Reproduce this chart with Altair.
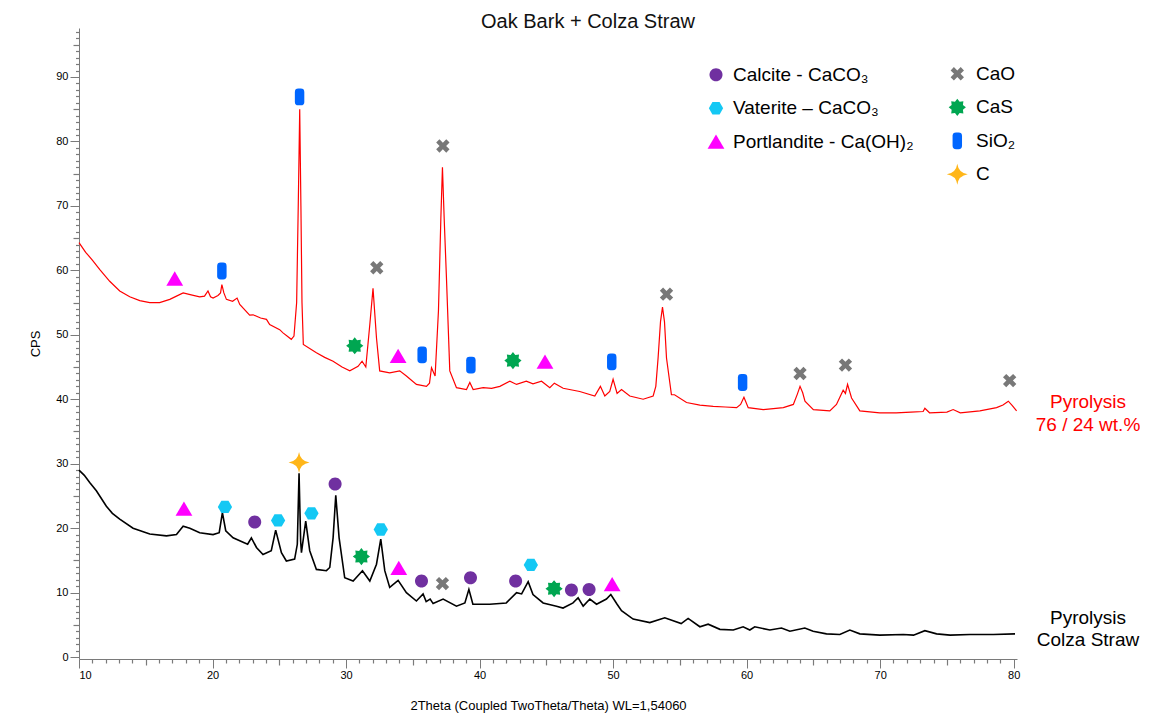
import math
import altair as alt
import pandas as pd

F = "Liberation Sans"

# ---------------- data ----------------
red_x = [10.0, 10.5, 11.0, 11.56, 12.3, 13.05, 13.8, 14.55, 15.3, 16.04, 16.8, 17.3, 17.8, 18.4, 19.04,
         19.4, 19.66, 19.85, 20.04, 20.41, 20.6, 20.7, 20.85, 21.04, 21.5, 21.84, 22.04, 22.78, 23.04,
         23.6, 24.04, 24.28, 25.03, 25.28, 25.9, 26.1, 26.3, 26.42, 26.53, 26.62, 26.7, 26.8, 27.78,
         28.4, 29.03, 29.7, 30.28, 30.9, 31.2, 31.48, 31.78, 32.02, 32.28, 32.52, 33.27, 34.02, 34.52,
         35.27, 36.02, 36.25, 36.4, 36.67, 36.92, 37.1, 37.22, 37.35, 37.52, 37.77, 38.27, 39.02, 39.27,
         39.52, 40.27, 40.9, 41.52, 42.27, 42.77, 43.5, 44.0, 44.64, 45.26, 45.6, 46.26, 47.5, 48.63,
         49.05, 49.38, 49.75, 50.0, 50.3, 50.63, 51.25, 52.25, 53.0, 53.2, 53.37, 53.55, 53.7, 53.85,
         54.0, 54.37, 54.6, 55.5, 56.5, 57.5, 58.4, 59.25, 59.55, 59.8, 60.12, 61.25, 62.75, 63.5, 63.8,
         64.0, 64.2, 64.37, 65.0, 66.23, 66.73, 67.23, 67.4, 67.56, 67.86, 68.48, 69.97, 71.2, 72.3,
         73.22, 73.35, 73.7, 75.0, 75.47, 76.0, 77.47, 78.72, 79.2, 79.6, 79.9, 80.22]
red_y = [64.3, 62.8, 61.6, 60.1, 58.3, 56.8, 55.9, 55.3, 55.0, 55.0, 55.5, 56.0, 56.5, 56.2, 55.9,
         56.0, 56.8, 55.9, 55.7, 56.1, 56.5, 57.8, 56.5, 55.5, 55.2, 55.7, 54.7, 53.05, 53.1,
         52.6, 52.4, 51.6, 50.8, 50.3, 49.3, 49.8, 55.0, 70.0, 85.0, 70.0, 55.0, 48.5, 47.2,
         46.5, 45.9, 45.0, 44.4, 45.1, 45.9, 45.0, 51.6, 57.2, 49.5, 44.4, 44.1, 44.4, 43.6,
         42.3, 42.0, 42.5, 44.9, 43.6, 53.7, 68.0, 76.0, 68.0, 58.8, 44.4, 41.8, 41.5, 42.6,
         41.5, 41.8, 41.7, 42.0, 42.8, 42.3, 42.8, 42.4, 42.8, 41.8, 42.5, 41.7, 41.2, 40.5,
         42.0, 40.5, 41.2, 43.1, 40.9, 41.5, 40.5, 40.0, 40.5, 42.0, 46.4, 52.0, 54.3, 52.0,
         46.4, 40.7, 40.7, 39.5, 39.1, 38.9, 38.8, 38.7, 39.2, 40.3, 38.7, 38.4, 38.7, 39.2, 40.8,
         42.0, 41.0, 39.7, 38.4, 38.2, 39.2, 41.4, 40.9, 42.3, 40.2, 38.2, 37.9, 37.9, 38.0,
         38.1, 38.6, 37.9, 38.0, 38.4, 37.9, 38.2, 38.7, 39.1, 39.7, 39.0, 38.2]

black_x = [10.0, 10.4, 10.8, 11.3, 12.05, 12.5, 13.05, 14.05, 15.3, 16.55, 17.3, 17.6, 17.8, 18.3, 19.04,
           20.04, 20.5, 20.74, 20.99, 21.54, 22.29, 22.63, 22.91, 23.29, 23.78, 24.4, 24.73, 25.16,
           25.53, 26.15, 26.35, 26.48, 26.6, 26.66, 26.98, 27.28, 27.78, 28.53, 28.78, 29.03, 29.23,
           29.48, 29.9, 30.53, 31.23, 31.78, 32.28, 32.6, 32.9, 33.27, 33.9, 34.52, 35.27, 35.77, 36.0,
           36.3, 36.52, 37.27, 38.27, 38.9, 39.2, 39.5, 40.76, 42.0, 42.77, 43.15, 43.64, 44.0, 44.76,
           45.76, 46.25, 47.0, 47.38, 47.76, 48.26, 48.76, 49.5, 49.83, 50.3, 50.63, 51.5, 52.75, 53.87,
           55.1, 55.62, 56.5, 57.12, 58.0, 59.0, 59.74, 60.24, 60.61, 61.74, 62.61, 63.24, 64.36, 64.98,
           65.98, 66.98, 67.73, 68.48, 69.98, 71.73, 72.5, 73.35, 74.23, 75.24, 76.73, 78.48, 80.1]
black_y = [29.0, 28.2, 27.1, 25.8, 23.4, 22.3, 21.4, 20.0, 19.1, 18.8, 19.0, 19.8, 20.3, 20.0, 19.3,
           19.0, 19.3, 22.4, 19.6, 18.5, 17.8, 17.5, 18.5, 17.0, 15.9, 16.5, 19.7, 16.2,
           14.9, 15.2, 17.5, 28.5, 18.0, 16.2, 21.1, 16.5, 13.6, 13.4, 13.9, 18.5, 25.1,
           18.5, 12.3, 11.8, 13.4, 11.8, 14.4, 18.3, 13.4, 10.8, 11.9, 10.0, 8.7, 9.8, 8.6,
           9.0, 8.3, 9.0, 7.9, 8.4, 10.5, 8.2, 8.2, 8.4, 10.0, 9.8, 11.7, 9.7, 8.4,
           7.9, 7.6, 8.4, 9.2, 7.9, 9.0, 8.2, 9.0, 9.7, 8.2, 7.2, 5.9, 5.35, 6.1,
           5.2, 6.0, 4.7, 5.1, 4.3, 4.2, 4.7, 4.2, 4.7, 4.2, 4.5, 4.0, 4.5, 4.0,
           3.6, 3.5, 4.2, 3.6, 3.4, 3.5, 3.4, 4.1, 3.6, 3.4, 3.5, 3.5, 3.6]

# phase markers, group 1 (left legend column)
g1_phase = (["Portlandite - Ca(OH)₂"] * 6 + ["Vaterite – CaCO₃"] * 5 + ["Calcite - CaCO₃"] * 7)
g1_x = [17.17, 33.9, 44.9, 17.86, 33.95, 49.93,
        20.93, 24.91, 27.41, 32.6, 43.84,
        23.16, 29.18, 35.65, 39.32, 42.7, 46.88, 48.2]
g1_y = [58.7, 46.7, 45.8, 23.0, 13.8, 11.3,
        23.3, 21.2, 22.3, 19.8, 14.3,
        20.96, 26.85, 11.8, 12.3, 11.8, 10.4, 10.5]

# phase markers, group 2 (right legend column)
g2_phase = (["CaO"] * 7 + ["CaS"] * 4 + ["SiO₂"] * 6 + ["C"])
g2_x = [32.3, 37.25, 54.0, 64.0, 67.4, 79.7, 37.22,
        30.65, 42.5, 31.15, 45.58,
        20.7, 26.52, 35.7, 39.35, 49.9, 59.7,
        26.48]
g2_y = [60.4, 79.3, 56.3, 44.0, 45.3, 42.9, 11.4,
        48.3, 46.0, 15.6, 10.6,
        59.9, 86.9, 46.9, 45.3, 45.8, 42.6,
        30.2]

g1_domain = ["Calcite - CaCO₃", "Vaterite – CaCO₃", "Portlandite - Ca(OH)₂"]
g2_domain = ["CaO", "CaS", "SiO₂", "C"]
sample_labels = ["Pyrolysis\n76 / 24 wt.%", "Pyrolysis\nColza Straw"]

# ---------------- symbol shapes (unit box, size 441 -> 21 px) ----------------
def poly(pts):
    return "M" + " L".join(f"{x:.3f},{y:.3f}" for x, y in pts) + " Z"

r = 0.62
circle = f"M{r},0 A{r},{r} 0 1 1 {-r},0 A{r},{r} 0 1 1 {r},0 Z"
R = 0.68
hexagon = poly([(R, 0), (R / 2, R * 0.866), (-R / 2, R * 0.866), (-R, 0),
                (-R / 2, -R * 0.866), (R / 2, -R * 0.866)])
triangle = poly([(0, -0.7), (0.8, 0.66), (-0.8, 0.66)])
a, L = 0.22, 0.68
plus = [(a, -L), (a, -a), (L, -a), (L, a), (a, a), (a, L), (-a, L), (-a, a), (-L, a),
        (-L, -a), (-a, -a), (-a, -L)]
xshape = poly([((px - py) / math.sqrt(2), (px + py) / math.sqrt(2)) for px, py in plus])
star8 = poly([((0.82 if i % 2 == 0 else 0.58) * math.cos(-math.pi / 2 + i * math.pi / 8),
               (0.82 if i % 2 == 0 else 0.58) * math.sin(-math.pi / 2 + i * math.pi / 8))
              for i in range(16)])
w, h, c = 0.45, 0.8, 0.33
capsule = (f"M{-w},{-h + c} Q{-w},{-h} {-w + c},{-h} L{w - c},{-h} Q{w},{-h} {w},{-h + c} "
           f"L{w},{h - c} Q{w},{h} {w - c},{h} L{-w + c},{h} Q{-w},{h} {-w},{h - c} Z")
star4 = "M0,-1 Q0.12,-0.12 1,0 Q0.12,0.12 0,1 Q-0.12,0.12 -1,0 Q-0.12,-0.12 0,-1 Z"

g1_shapes = [circle, hexagon, triangle]
g1_colors = ["#7030A0", "#14C8F4", "#FF00FF"]
g2_shapes = [xshape, star8, capsule, star4]
g2_colors = ["#787878", "#00A651", "#0066FF", "#FFB619"]

red_df = pd.DataFrame({"x": red_x, "y": red_y})
black_df = pd.DataFrame({"x": black_x, "y": black_y})
g1_df = pd.DataFrame({"phase": g1_phase, "x": g1_x, "y": g1_y})
g2_df = pd.DataFrame({"phase": g2_phase, "x": g2_x, "y": g2_y})

xs = alt.Scale(domain=[10, 80.25], nice=False, zero=False)
ys = alt.Scale(domain=[-0.3, 97.6], nice=False, zero=False)
GREY = "#7A7A7A"

red = alt.Chart(red_df).mark_line(color="#FF0000", strokeWidth=1.2).encode(
    x=alt.X("x:Q", scale=xs, axis=alt.Axis(
        orient="bottom",
        values=list(range(10, 81, 10)), tickSize=9, tickColor=GREY, domainColor=GREY,
        labelFont=F, labelFontSize=11, labelColor="#000000", labelFlush=True, labelPadding=1,
        title="2Theta (Coupled TwoTheta/Theta) WL=1,54060", titleFont=F, titleFontSize=13,
        titleFontWeight="normal", titleColor="#000000", titleY=46, titleBaseline="middle",
        grid=False, format="d")),
    y=alt.Y("y:Q", scale=ys, axis=alt.Axis(
        orient="left",
        values=list(range(0, 91, 10)), tickSize=9, tickColor=GREY, domainColor=GREY,
        labelFont=F, labelFontSize=11, labelColor="#000000", labelPadding=2,
        title="CPS", titleFont=F, titleFontSize=13, titleFontWeight="normal", titleColor="#000000",
        titleX=-44, titleY=315.5, titleAngle=270, titleAlign="center", titleBaseline="middle",
        grid=False, format="d")),
)

black = alt.Chart(black_df).mark_line(color="#000000", strokeWidth=1.6).encode(
    x=alt.X("x:Q", scale=xs, axis=None),
    y=alt.Y("y:Q", scale=ys, axis=None),
)

minor = alt.Chart(red_df).mark_line(opacity=0).encode(
    x=alt.X("x:Q", scale=xs, axis=alt.Axis(
        orient="bottom",
        values=[v for v in range(10, 81) if v % 5], tickSize=4, tickColor=GREY, tickWidth=1.2,
        labels=False, domain=False, title=None, grid=False)),
    y=alt.Y("y:Q", scale=ys, axis=alt.Axis(
        orient="left",
        values=[v for v in range(0, 98) if v % 5], tickSize=3.5, tickColor=GREY, tickWidth=1.2,
        labels=False, domain=False, title=None, grid=False)),
)

mid = alt.Chart(red_df).mark_line(opacity=0).encode(
    x=alt.X("x:Q", scale=xs, axis=alt.Axis(
        orient="bottom",
        values=list(range(15, 80, 10)), tickSize=6, tickColor=GREY, tickWidth=1.2,
        labels=False, domain=False, title=None, grid=False)),
    y=alt.Y("y:Q", scale=ys, axis=alt.Axis(
        orient="left",
        values=list(range(5, 98, 10)), tickSize=6, tickColor=GREY, tickWidth=1.2,
        labels=False, domain=False, title=None, grid=False)),
)


def legend(lx, ly, offset):
    return alt.Legend(orient="none", legendX=lx, legendY=ly, title=None, labelFont=F,
                      labelFontSize=19, labelColor="#000000", symbolSize=441,
                      symbolStrokeWidth=0, symbolOpacity=1, rowPadding=12.5,
                      labelOffset=offset, padding=0, labelLimit=400, direction="vertical")


leg1 = legend(626.5, 36.3, 6.5)
leg2 = legend(867.8, 35.3, 8.2)

m1 = alt.Chart(g1_df).mark_point(filled=True, size=441, opacity=1, strokeWidth=0).encode(
    x=alt.X("x:Q", scale=xs, axis=None),
    y=alt.Y("y:Q", scale=ys, axis=None),
    color=alt.Color("phase:N", scale=alt.Scale(domain=g1_domain, range=g1_colors), legend=leg1),
    shape=alt.Shape("phase:N", scale=alt.Scale(domain=g1_domain, range=g1_shapes), legend=leg1),
)

m2 = alt.Chart(g2_df).mark_point(filled=True, size=441, opacity=1, strokeWidth=0).encode(
    x=alt.X("x:Q", scale=xs, axis=None),
    y=alt.Y("y:Q", scale=ys, axis=None),
    color=alt.Color("phase:N", scale=alt.Scale(domain=g2_domain, range=g2_colors), legend=leg2),
    shape=alt.Shape("phase:N", scale=alt.Scale(domain=g2_domain, range=g2_shapes), legend=leg2),
)

lab_red = alt.Chart(pd.DataFrame({"label": [sample_labels[0]]})).mark_text(
    lineBreak="\n", font=F, fontSize=19, color="#FF0000", align="center",
    baseline="middle", lineHeight=22.5).encode(
    text="label:N", x=alt.value(1009), y=alt.value(374))

lab_black = alt.Chart(pd.DataFrame({"label": [sample_labels[1]]})).mark_text(
    lineBreak="\n", font=F, fontSize=19, color="#000000", align="center",
    baseline="middle", lineHeight=22.5).encode(
    text="label:N", x=alt.value(1009), y=alt.value(589.5))

chart = alt.layer(red, black, minor, mid, m1, m2, lab_red, lab_black).resolve_axis(
    x="independent", y="independent"
).resolve_scale(
    color="independent", shape="independent"
).properties(
    width=938, height=631,
    autosize=alt.AutoSizeParams(type="none"),
    padding={"left": 71, "top": 20, "right": 150, "bottom": 58},
    title=alt.TitleParams("Oak Bark + Colza Straw", font=F, fontSize=20, fontWeight="normal",
                          color="#111111", anchor="middle", frame="group", dx=40, dy=7, offset=3),
).configure_view(stroke=None)

chart.save("out.html", embed_options={"renderer": "svg", "actions": False})
